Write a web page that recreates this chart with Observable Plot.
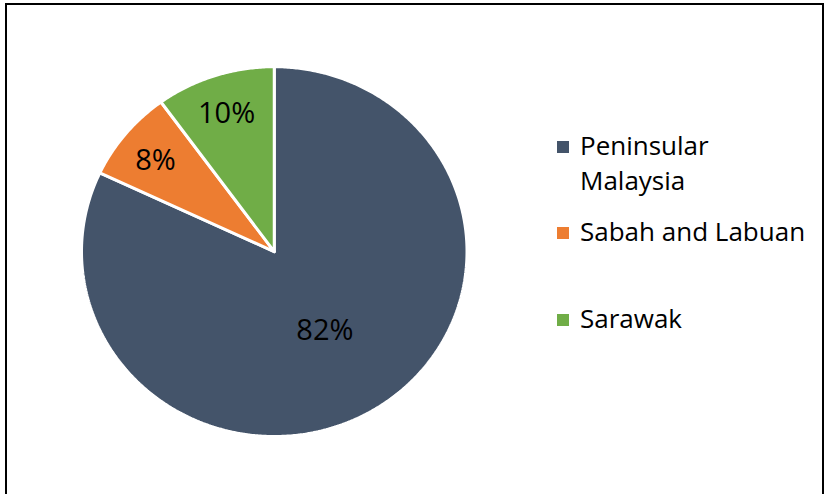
<!DOCTYPE html>
<html>
<head>
<meta charset="utf-8">
<script src="https://cdn.jsdelivr.net/npm/d3@7"></script>
<script src="https://cdn.jsdelivr.net/npm/@observablehq/plot@0.6"></script>
<style>
  html, body { margin: 0; padding: 0; background: #fff; width: 827px; height: 494px; overflow: hidden; }
  #wrap { position: relative; width: 827px; height: 494px; }
  #frame { position: absolute; left: 5px; top: 3px; width: 819px; height: 520px; border: 2.5px solid #000; box-sizing: border-box; pointer-events: none; }
  #chart { position: absolute; left: 0; top: 0; }
  #legend { position: absolute; left: 557px; top: 0; font-family: "Open Sans", sans-serif; font-size: 26px; color: #000; }
  .item { position: absolute; left: 0; white-space: nowrap; }
  .sw { position: absolute; left: 0; width: 12px; height: 12px; }
  .lab { position: absolute; left: 23px; line-height: 35px; }
</style>
</head>
<body>
<div id="wrap">
  <div id="chart"></div>
  <div id="legend"></div>
  <div id="frame"></div>
</div>
<script>
const categories = ["Peninsular Malaysia", "Sabah and Labuan", "Sarawak"];
const shares = [82, 8, 10];
const labels = ["82%", "8%", "10%"];
const colors = ["#44546A", "#ED7D31", "#70AD47"];

const data = categories.map((c, i) => ({category: c, value: shares[i], label: labels[i], color: colors[i]}));
const arcs = d3.pie().sort(null).value(d => d.value).startAngle(0).endAngle(2 * Math.PI)(data);

// polygons for each slice (angle measured clockwise from 12 o'clock)
const slices = arcs.map(a => {
  const pts = [{x: 0, y: 0}];
  const n = Math.max(4, Math.ceil((a.endAngle - a.startAngle) / (Math.PI / 360)));
  for (let k = 0; k <= n; k++) {
    const t = a.startAngle + (a.endAngle - a.startAngle) * k / n;
    pts.push({x: Math.sin(t), y: Math.cos(t)});
  }
  pts.push({x: 0, y: 0});
  return {pts, color: a.data.color};
});

const labelPts = arcs.map(a => {
  const m = (a.startAngle + a.endAngle) / 2;
  const r = a.data.value >= 20 ? 0.49 : 0.8;
  return {x: r * Math.sin(m), y: r * Math.cos(m), label: a.data.label};
});

const plot = Plot.plot({
  width: 827,
  height: 494,
  margin: 0,
  x: {domain: [-1, 1], range: [81, 466.5], axis: null},
  y: {domain: [-1, 1], range: [436, 66.2], axis: null},
  marks: [
    ...slices.map(s => Plot.line(s.pts, {x: "x", y: "y", fill: s.color, stroke: "#fff", strokeWidth: 3, strokeLinejoin: "miter"})),
    Plot.text(labelPts, {x: "x", y: "y", text: "label", fontSize: 29, fill: "#000", textAnchor: "middle", lineAnchor: "middle", fontFamily: "Open Sans, sans-serif", dy: 3})
  ]
});
document.getElementById("chart").appendChild(plot);

// legend
const legendRows = [
  {lines: ["Peninsular", "Malaysia"], top: 128},
  {lines: ["Sabah and Labuan"], top: 214},
  {lines: ["Sarawak"], top: 301}
];
const legend = document.getElementById("legend");
categories.forEach((c, i) => {
  const row = legendRows[i];
  const item = document.createElement("div");
  item.className = "item";
  item.style.top = row.top + "px";
  const sw = document.createElement("div");
  sw.className = "sw";
  sw.style.background = colors[i];
  sw.style.top = "13px";
  const lab = document.createElement("div");
  lab.className = "lab";
  lab.innerHTML = row.lines.join("<br>");
  item.appendChild(sw);
  item.appendChild(lab);
  legend.appendChild(item);
});
</script>
</body>
</html>
